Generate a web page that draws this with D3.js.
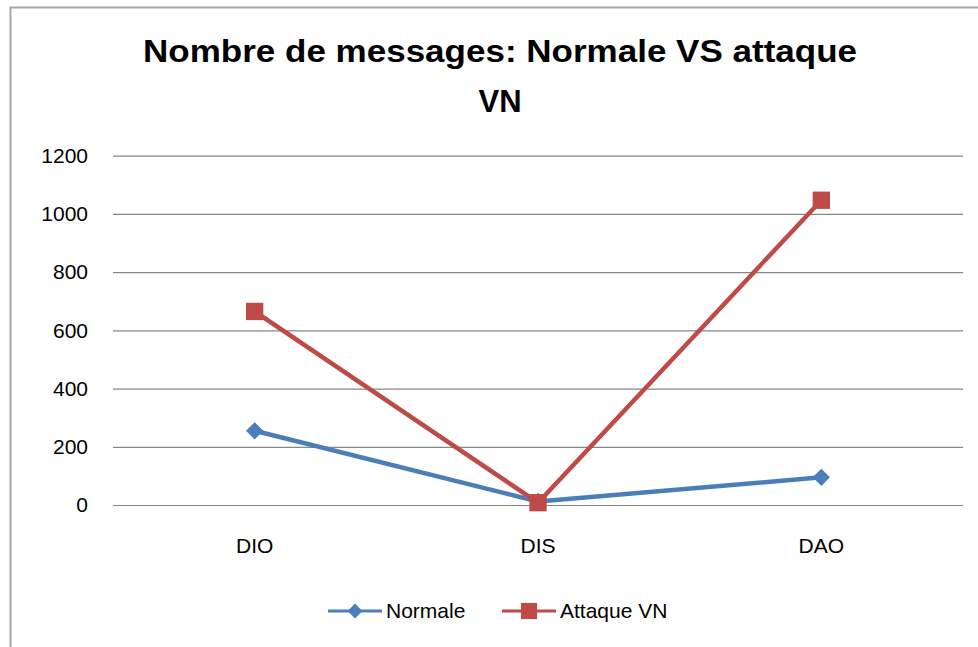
<!DOCTYPE html>
<html>
<head>
<meta charset="utf-8">
<script src="https://cdn.jsdelivr.net/npm/d3@7"></script>
<style>
  body { margin: 0; background: #fff; }
  svg { display: block; }
  text { font-family: "Liberation Sans", Arial, sans-serif; fill: #000; }
</style>
</head>
<body>
<div id="chart"></div>
<script>
// chart data
var categories = ["DIO", "DIS", "DAO"];
var normale = [255, 12, 95];
var attaqueVN = [665, 8, 1047];
var yTicks = [0, 200, 400, 600, 800, 1000, 1200];
var titleLines = ["Nombre de messages: Normale VS attaque", "VN"];
var seriesNames = ["Normale", "Attaque VN"];

var width = 978, height = 647;
var plot = {left: 113, right: 963, top: 155.7, bottom: 505};
var blue = "#4a7ebb", red = "#be4b48";
var labelFont = "\"Liberation Sans\", Arial, sans-serif";

var svg = d3.select("#chart").append("svg")
    .attr("width", width)
    .attr("height", height);

// chart border (frame of the embedded chart)
svg.append("path")
    .attr("d", "M10.5," + height + "V7.5H" + width)
    .attr("fill", "none")
    .attr("stroke", "#a6a6a6")
    .attr("stroke-width", 2);

var x = d3.scaleBand()
    .domain(categories)
    .range([plot.left, plot.right]);

var y = d3.scaleLinear()
    .domain([0, 1200])
    .range([plot.bottom, plot.top]);

// title
svg.append("g").selectAll("text")
    .data(titleLines)
    .enter()
    .append("text")
    .attr("x", 500)
    .attr("y", function(d, i) { return 62 + i * 50; })
    .attr("text-anchor", "middle")
    .style("font-size", "31px")
    .style("font-weight", "bold")
    .attr("textLength", function(d, i) { return i == 0 ? 714 : null; })
    .attr("lengthAdjust", "spacingAndGlyphs")
    .text(function(d) { return d; });

// gridlines + y labels
var yAxis = svg.append("g")
    .attr("transform", "translate(" + plot.left + ",0)")
    .call(d3.axisLeft(y).tickValues(yTicks).tickFormat(d3.format("d"))
        .tickSize(-(plot.right - plot.left)).tickPadding(25));
yAxis.select(".domain").remove();
yAxis.selectAll(".tick line").attr("stroke", "#868686").attr("stroke-width", 1.2);
yAxis.selectAll(".tick text")
    .style("font-size", "21px")
    .style("font-family", labelFont)
    .attr("fill", "#000");

// x labels
var xAxis = svg.append("g")
    .attr("transform", "translate(0," + plot.bottom + ")")
    .call(d3.axisBottom(x).tickSize(0).tickPadding(33));
xAxis.select(".domain").remove();
xAxis.selectAll(".tick text")
    .style("font-size", "21px")
    .style("font-family", labelFont)
    .attr("fill", "#000");

var line = d3.line()
    .x(function(d, i) { return x(categories[i]) + x.bandwidth() / 2; })
    .y(function(d) { return y(d); });

var diamond = d3.symbol().type(d3.symbolDiamond2).size(190);
var square = d3.symbol().type(d3.symbolSquare).size(300);

// Normale series
svg.append("path")
    .datum(normale)
    .attr("d", line)
    .attr("fill", "none")
    .attr("stroke", blue)
    .attr("stroke-width", 4.5)
    .attr("stroke-linejoin", "round");
svg.append("g").selectAll("path")
    .data(normale)
    .enter()
    .append("path")
    .attr("d", diamond)
    .attr("fill", blue)
    .attr("transform", function(d, i) {
        return "translate(" + (x(categories[i]) + x.bandwidth() / 2) + "," + y(d) + ")";
    });

// Attaque VN series
svg.append("path")
    .datum(attaqueVN)
    .attr("d", line)
    .attr("fill", "none")
    .attr("stroke", red)
    .attr("stroke-width", 4.5)
    .attr("stroke-linejoin", "round");
svg.append("g").selectAll("path")
    .data(attaqueVN)
    .enter()
    .append("path")
    .attr("d", square)
    .attr("fill", red)
    .attr("transform", function(d, i) {
        return "translate(" + (x(categories[i]) + x.bandwidth() / 2) + "," + y(d) + ")";
    });

// legend
var legendX = [328, 502];
var legend = svg.append("g").selectAll("g")
    .data(seriesNames)
    .enter()
    .append("g")
    .attr("transform", function(d, i) { return "translate(" + legendX[i] + ",611)"; });
legend.append("line")
    .attr("x1", 0).attr("x2", 54)
    .attr("stroke", function(d, i) { return i == 0 ? blue : red; })
    .attr("stroke-width", 3);
legend.append("path")
    .attr("transform", "translate(27,0)")
    .attr("d", function(d, i) {
        return i == 0 ? d3.symbol().type(d3.symbolDiamond2).size(140)() : d3.symbol().type(d3.symbolSquare).size(260)();
    })
    .attr("fill", function(d, i) { return i == 0 ? blue : red; });
legend.append("text")
    .attr("x", 58)
    .attr("dy", "0.35em")
    .style("font-size", "21px")
    .text(function(d) { return d; });
</script>
</body>
</html>
